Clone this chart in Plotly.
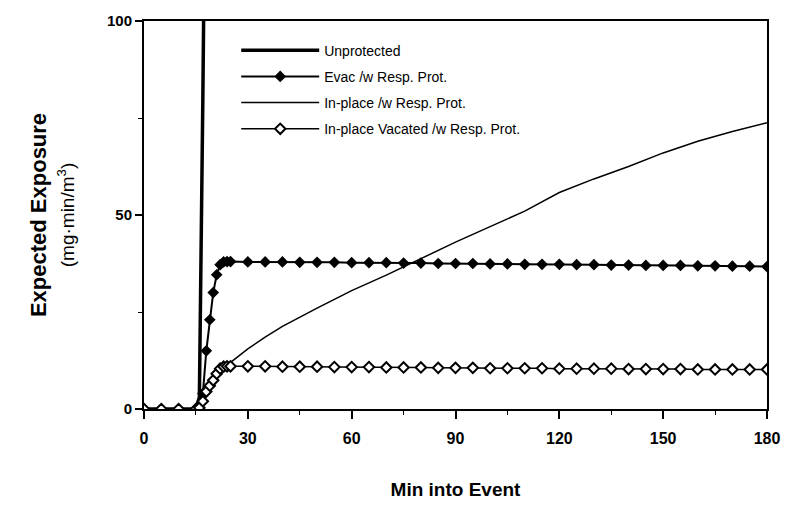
import plotly.graph_objects as go

# Minutes into the event for each series
t_unprot = [0, 5, 10, 15, 16, 16.5, 17, 17.5, 18]
unprotected = [0, 0, 0, 0, 3, 35, 80, 125, 170]

t_marked = [0, 5, 10, 15, 16, 17, 18, 19, 20, 21, 22, 23, 24, 25,
            30, 35, 40, 45, 50, 55, 60, 65, 70, 75, 80, 85, 90, 95, 100,
            105, 110, 115, 120, 125, 130, 135, 140, 145, 150, 155, 160,
            165, 170, 175, 180]
evac_resp = [0, 0, 0, 0, 0.3, 4, 15, 23, 30, 34.6, 37.2, 37.9, 38.0, 38.0,
             37.9, 37.9, 37.9, 37.8, 37.8, 37.8, 37.7, 37.7, 37.7, 37.6,
             37.6, 37.5, 37.5, 37.5, 37.4, 37.4, 37.3, 37.3, 37.3, 37.2,
             37.2, 37.1, 37.1, 37.0, 37.0, 37.0, 36.9, 36.9, 36.8, 36.8, 36.7]
vacated_resp = [0, 0, 0, 0, 0.3, 2, 4.5, 6, 7.4, 9.1, 10.4, 10.9, 11.0, 11.0,
                11.0, 11.0, 10.9, 10.9, 10.9, 10.8, 10.8, 10.8, 10.7, 10.7,
                10.7, 10.6, 10.6, 10.6, 10.5, 10.5, 10.5, 10.5, 10.4, 10.4,
                10.4, 10.4, 10.3, 10.3, 10.3, 10.3, 10.2, 10.2, 10.2, 10.2, 10.2]

t_inplace = [0, 5, 10, 15, 16, 17, 18, 19, 20, 21, 22, 23, 25, 30, 35, 40,
             50, 60, 70, 80, 90, 100, 110, 120, 130, 140, 150, 160, 170, 180]
inplace_resp = [0, 0, 0, 0, 0.3, 1.5, 3.5, 5.5, 7, 8.5, 9.7, 10.6, 12, 15.5,
                18.5, 21.3, 26, 30.5, 34.5, 38.8, 43, 47, 51, 55.8, 59.3,
                62.5, 66, 69, 71.5, 73.8]

x_ticks = [0, 30, 60, 90, 120, 150, 180]
y_ticks = [0, 50, 100]

FONT = "Liberation Sans, Arial, Helvetica, sans-serif"

fig = go.Figure()

fig.add_trace(go.Scatter(
    x=t_unprot, y=unprotected, name="Unprotected", mode="lines",
    line=dict(color="black", width=3.5), legendgroup="a"))

fig.add_trace(go.Scatter(
    x=t_marked, y=evac_resp, name="Evac /w Resp. Prot.", mode="lines+markers",
    line=dict(color="black", width=2),
    marker=dict(symbol="diamond", size=9, color="black"), legendgroup="b"))

fig.add_trace(go.Scatter(
    x=t_inplace, y=inplace_resp, name="In-place /w Resp. Prot.", mode="lines",
    line=dict(color="black", width=1.5), legendgroup="c"))

fig.add_trace(go.Scatter(
    x=t_marked, y=vacated_resp, name="In-place Vacated /w Resp. Prot.",
    mode="lines+markers", line=dict(color="black", width=1.5),
    marker=dict(symbol="diamond", size=8, color="white",
                line=dict(color="black", width=2)), legendgroup="d"))

fig.update_layout(
    width=792, height=512,
    margin=dict(l=144, r=20, t=17, b=103),
    paper_bgcolor="white", plot_bgcolor="white",
    font=dict(family=FONT, color="black", size=14),
    showlegend=True,
    legend=dict(x=0.148, y=0.965, xanchor="left", yanchor="top",
                bgcolor="rgba(0,0,0,0)", borderwidth=0,
                itemwidth=78, traceorder="grouped", tracegroupgap=5,
                font=dict(family=FONT, size=14, color="black")),
    xaxis=dict(
        range=[0, 180], tickmode="array", tickvals=x_ticks,
        ticktext=[str(v) for v in x_ticks],
        ticks="outside", ticklen=8, tickwidth=1.5, tickcolor="black",
        ticklabelstandoff=6,
        minor=dict(dtick=15, tick0=0, ticks="outside", ticklen=4,
                   tickcolor="black", tickwidth=1.2),
        showline=True, linecolor="black", linewidth=2, mirror=True,
        showgrid=False, zeroline=False,
        tickfont=dict(family=FONT, size=16, color="black", weight="bold"),
        title=dict(text="<b>Min into Event</b>", standoff=36,
                   font=dict(family=FONT, size=19, color="black")),
    ),
    yaxis=dict(
        range=[0, 100], tickmode="array", tickvals=y_ticks,
        ticks="outside", ticklen=7, tickwidth=1.5, tickcolor="black",
        minor=dict(dtick=25, tick0=0, ticks="outside", ticklen=4,
                   tickcolor="black", tickwidth=1.2),
        showline=True, linecolor="black", linewidth=2, mirror=True,
        showgrid=False, zeroline=False,
        tickfont=dict(family=FONT, size=15, color="black", weight="bold"),
        title=dict(text="<b>Expected Exposure</b><br>"
                        "<span style='font-size:19px'>(mg·min/m<sup>3</sup>)</span>",
                   standoff=26,
                   font=dict(family=FONT, size=22, color="black")),
    ),
)

fig.write_html("out.html")
